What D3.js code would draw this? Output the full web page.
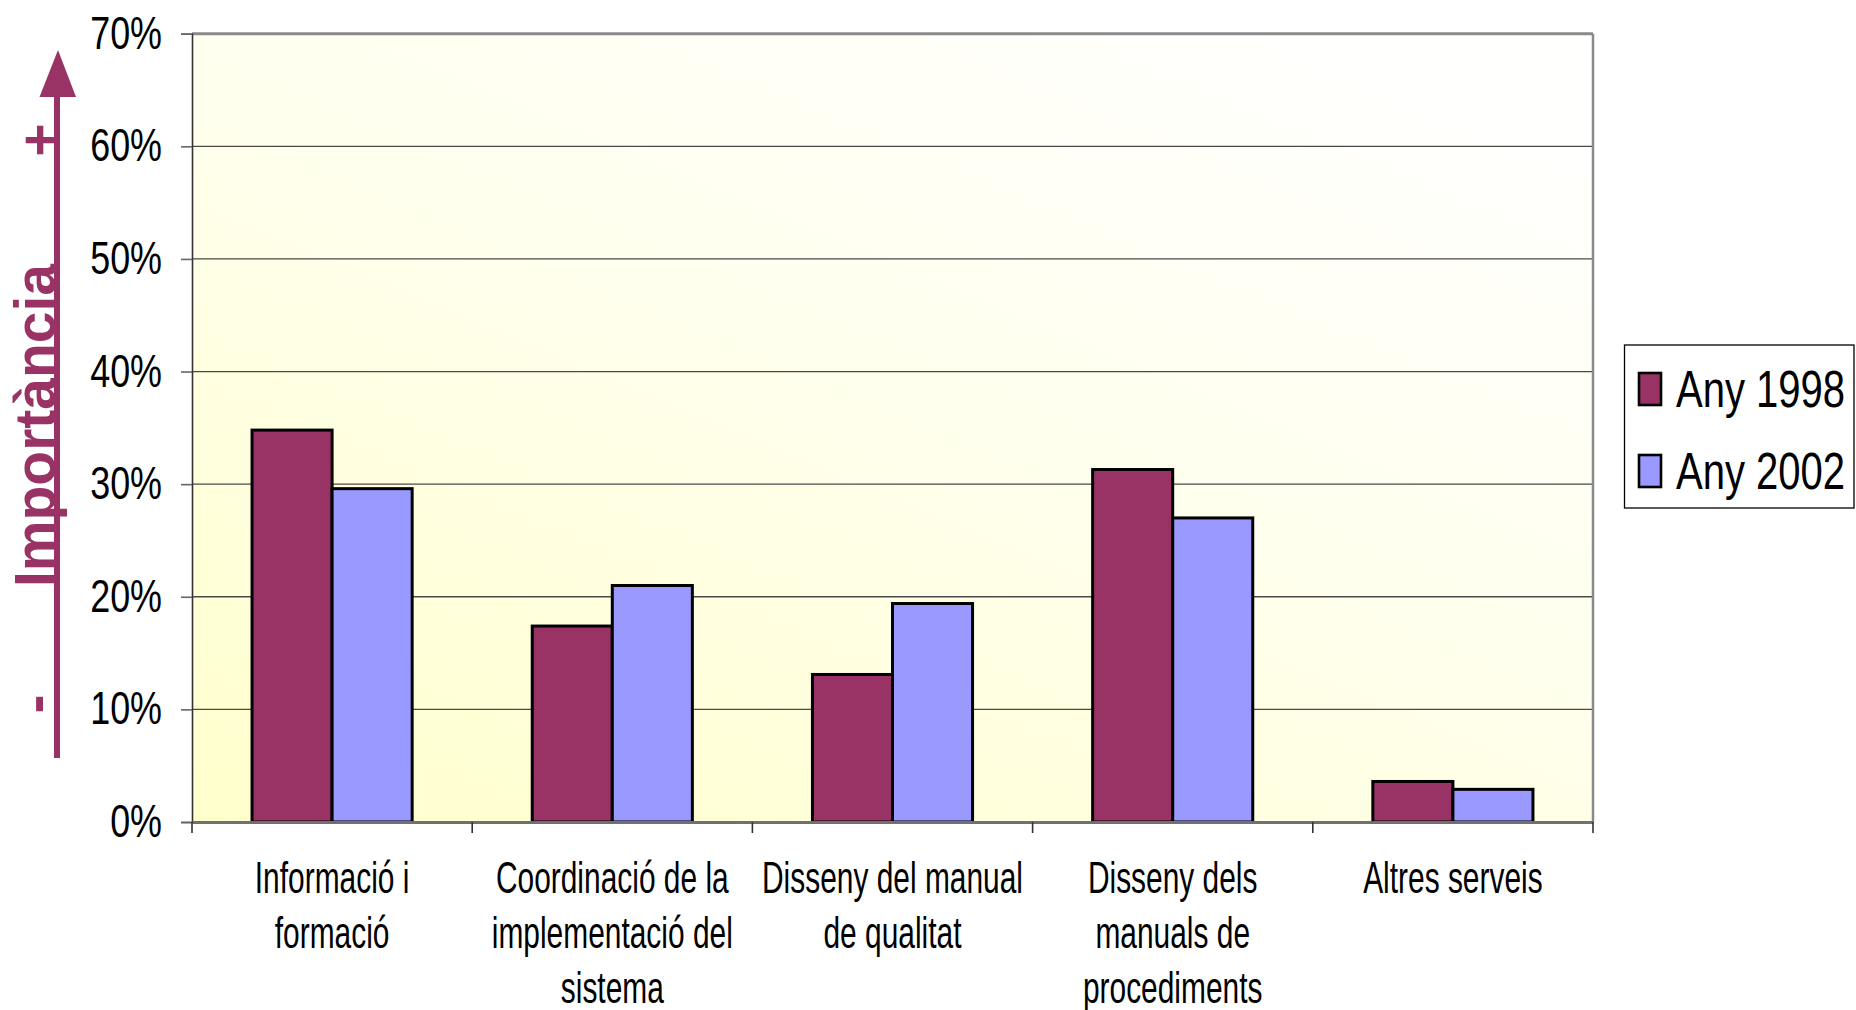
<!DOCTYPE html>
<html>
<head>
<meta charset="utf-8">
<script src="https://cdn.jsdelivr.net/npm/d3@7"></script>
<style>
  html, body { margin: 0; padding: 0; background: #ffffff; }
  svg { display: block; }
  text { font-family: "Liberation Sans", Arial, sans-serif; }
</style>
</head>
<body>
<script>
// ---------- data ----------
const categories = [
  "Informació i formació",
  "Coordinació de la implementació del sistema",
  "Disseny del manual de qualitat",
  "Disseny dels manuals de procediments",
  "Altres serveis"
];
const categoryLines = [
  ["Informació i", "formació"],
  ["Coordinació de la", "implementació del", "sistema"],
  ["Disseny del manual", "de qualitat"],
  ["Disseny dels", "manuals de", "procediments"],
  ["Altres serveis"]
];
const seriesNames = ["Any 1998", "Any 2002"];
const values1998 = [0.348, 0.174, 0.131, 0.313, 0.036];
const values2002 = [0.296, 0.210, 0.194, 0.270, 0.029];
const seriesColors = ["#993366", "#9999FF"];
const yTicks = [0, 0.1, 0.2, 0.3, 0.4, 0.5, 0.6, 0.7];
const annotationText = "Importància";

// ---------- layout ----------
const W = 1856, H = 1010;
const plot = { left: 192, right: 1593, top: 33.7, bottom: 822 };

const svg = d3.select("body").append("svg")
  .attr("width", W).attr("height", H);

const defs = svg.append("defs");
const grad = defs.append("linearGradient")
  .attr("id", "bg").attr("x1", "0").attr("y1", "1").attr("x2", "0.75").attr("y2", "0");
grad.append("stop").attr("offset", "0").attr("stop-color", "#FFFFCC");
grad.append("stop").attr("offset", "0.55").attr("stop-color", "#FFFFEC");
grad.append("stop").attr("offset", "1").attr("stop-color", "#FFFFFD");

const x0 = d3.scaleBand().domain(categories).range([plot.left, plot.right]).paddingInner(0).paddingOuter(0);
const x1 = d3.scaleBand().domain(seriesNames).range([0, x0.bandwidth()]).paddingInner(0).paddingOuter(0.75);
const y = d3.scaleLinear().domain([0, 0.7]).range([plot.bottom, plot.top]);

// background
svg.append("rect")
  .attr("x", plot.left).attr("y", plot.top)
  .attr("width", plot.right - plot.left).attr("height", plot.bottom - plot.top)
  .attr("fill", "url(#bg)");

// gridlines
svg.append("g").selectAll("line")
  .data(yTicks.filter(d => d > 0 && d < 0.7))
  .join("line")
  .attr("x1", plot.left).attr("x2", plot.right)
  .attr("y1", d => y(d)).attr("y2", d => y(d))
  .attr("stroke", "#4a4a4a").attr("stroke-width", 1.3);

// bars
const rows = categories.map((c, i) => ({ cat: c, vals: [values1998[i], values2002[i]] }));
const groups = svg.append("g").selectAll("g")
  .data(rows).join("g")
  .attr("transform", d => `translate(${x0(d.cat)},0)`);
groups.selectAll("rect")
  .data(d => d.vals.map((v, j) => ({ s: seriesNames[j], v, j })))
  .join("rect")
  .attr("x", d => x1(d.s))
  .attr("width", x1.bandwidth())
  .attr("y", d => y(d.v))
  .attr("height", d => y(0) - y(d.v))
  .attr("fill", d => seriesColors[d.j])
  .attr("stroke", "#000").attr("stroke-width", 3);

// plot border (top and right)
svg.append("line").attr("x1", plot.left).attr("x2", plot.right)
  .attr("y1", plot.top).attr("y2", plot.top).attr("stroke", "#8a8a8a").attr("stroke-width", 3);
svg.append("line").attr("x1", plot.right).attr("x2", plot.right)
  .attr("y1", plot.top).attr("y2", plot.bottom).attr("stroke", "#8a8a8a").attr("stroke-width", 2.5);

// y axis
const yAxis = svg.append("g")
  .attr("transform", `translate(${plot.left},0)`)
  .call(d3.axisLeft(y).tickValues(yTicks).tickSize(11).tickFormat(d3.format(".0%")));
yAxis.select(".domain").attr("stroke", "#333").attr("stroke-width", 1.6);
yAxis.selectAll(".tick line").attr("stroke", "#666").attr("stroke-width", 1.6);
yAxis.selectAll(".tick text")
  .attr("x", 0).attr("dy", null)
  .attr("dominant-baseline", "central")
  .attr("text-anchor", "end")
  .attr("fill", "#000")
  .style("font-size", "46px")
  .attr("transform", "translate(-30,-1) scale(0.78,1)");

// x axis
const xAxis = svg.append("g")
  .attr("transform", `translate(0,${plot.bottom})`)
  .call(d3.axisBottom(x0).tickSize(0).tickFormat(""));
xAxis.select(".domain").attr("stroke", "#707070").attr("stroke-width", 3);
xAxis.selectAll(".tick").remove();
// boundary ticks between categories
const bounds = categories.map(c => x0(c)).concat([x0(categories[categories.length - 1]) + x0.bandwidth()]);
xAxis.selectAll("line.bt").data(bounds).join("line")
  .attr("class", "bt")
  .attr("x1", d => d).attr("x2", d => d)
  .attr("y1", 0).attr("y2", 11)
  .attr("stroke", "#333").attr("stroke-width", 1.6);

// category labels
const labG = svg.append("g");
categories.forEach((c, i) => {
  const cx = x0(c) + x0.bandwidth() / 2;
  categoryLines[i].forEach((ln, k) => {
    labG.append("text")
      .attr("text-anchor", "middle")
      .attr("transform", `translate(${cx},${893 + k * 55}) scale(0.68,1)`)
      .style("font-size", "44px")
      .attr("fill", "#000")
      .text(ln);
  });
});

// legend
const lg = svg.append("g");
lg.append("rect").attr("x", 1624.5).attr("y", 345).attr("width", 229.5).attr("height", 163)
  .attr("fill", "#fff").attr("stroke", "#000").attr("stroke-width", 1.3);
seriesNames.forEach((s, j) => {
  const yy = 373 + j * 82;
  lg.append("rect").attr("x", 1639).attr("y", yy).attr("width", 22).attr("height", 32)
    .attr("fill", seriesColors[j]).attr("stroke", "#000").attr("stroke-width", 2.6);
  lg.append("text")
    .attr("transform", `translate(1676,${yy + 34}) scale(0.77,1)`)
    .style("font-size", "52px").attr("fill", "#000")
    .text(s);
});

// importance annotation (arrow + rotated text)
const ann = svg.append("g").attr("fill", "#993366");
ann.append("line").attr("x1", 57).attr("x2", 57).attr("y1", 92).attr("y2", 758)
  .attr("stroke", "#993366").attr("stroke-width", 6);
ann.append("path").attr("d", "M58,50 L39.5,97 L76,97 Z");
ann.append("text")
  .attr("transform", "translate(55,587) rotate(-90)")
  .attr("text-anchor", "start")
  .style("font-size", "57px").style("font-weight", "bold")
  .text(annotationText);
ann.append("text")
  .attr("transform", "translate(55,704) rotate(-90)")
  .attr("text-anchor", "middle")
  .style("font-size", "57px").style("font-weight", "bold")
  .text("-");
ann.append("text")
  .attr("transform", "translate(60,140) rotate(-90)")
  .attr("text-anchor", "middle")
  .style("font-size", "57px").style("font-weight", "bold")
  .text("+");
</script>
</body>
</html>
